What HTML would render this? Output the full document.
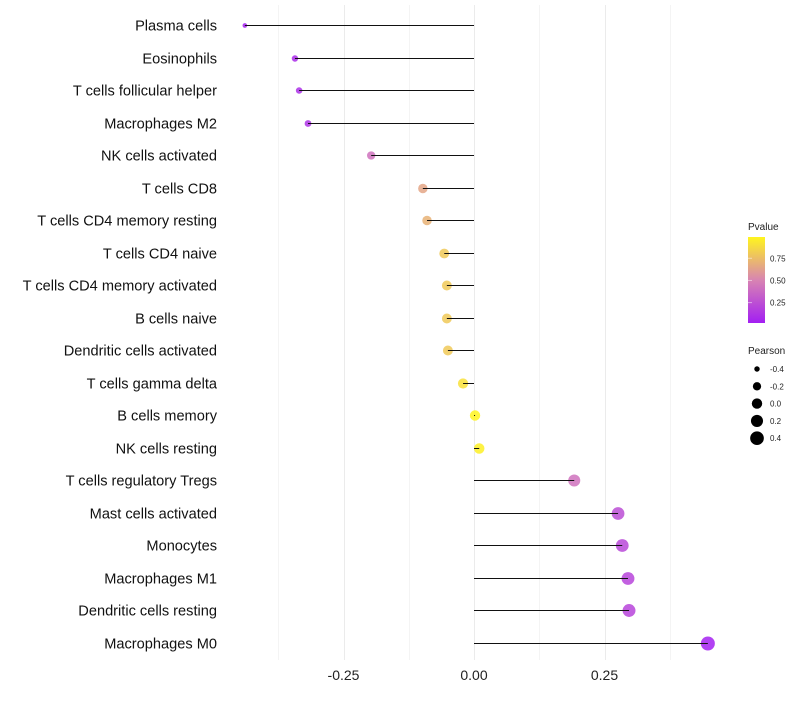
<!DOCTYPE html>
<html><head><meta charset="utf-8"><style>
body{margin:0;background:#fff;font-family:"Liberation Sans",sans-serif}
</style></head><body>
<svg id="c" width="800" height="700" xmlns="http://www.w3.org/2000/svg">
<defs><linearGradient id="g" x1="0" y1="1" x2="0" y2="0">
<stop offset="0" stop-color="#a31ff2"/><stop offset="0.5" stop-color="#d884b2"/><stop offset="1" stop-color="#fff51e"/>
</linearGradient></defs>
<g id="grid"></g><g id="dots"></g><g id="marks"></g><g id="labels"></g>
<g>
<text x="748" y="230" font-size="10" fill="#222">Pvalue</text>
<rect x="748" y="237" width="17" height="86" fill="url(#g)"/>
<g id="cbt" font-size="8" fill="#222"></g>
</g>
<g>
<text x="748" y="354" font-size="10" fill="#222">Pearson</text>
<g id="szl" font-size="8" fill="#222"></g>
</g>
</svg>
<script>
const categories=["Plasma cells","Eosinophils","T cells follicular helper","Macrophages M2","NK cells activated","T cells CD8","T cells CD4 memory resting","T cells CD4 naive","T cells CD4 memory activated","B cells naive","Dendritic cells activated","T cells gamma delta","B cells memory","NK cells resting","T cells regulatory  Tregs ","Mast cells activated","Monocytes","Macrophages M1","Dendritic cells resting","Macrophages M0"];
const pearson=[-0.439,-0.343,-0.335,-0.318,-0.197,-0.098,-0.09,-0.057,-0.052,-0.052,-0.05,-0.021,0.002,0.01,0.192,0.276,0.284,0.295,0.297,0.448];
const pvalue=[0.03,0.08,0.1,0.12,0.42,0.65,0.7,0.8,0.8,0.8,0.8,0.9,0.99,0.97,0.42,0.24,0.22,0.2,0.2,0.03];
const xTicks=[-0.25,0,0.25];
const xTickLabels=["-0.25","0.00","0.25"];
const pTicks=[0.25,0.5,0.75];
const sizeTicks=[-0.4,-0.2,0,0.2,0.4];
const NS="http://www.w3.org/2000/svg";
const X=v=>474+v*522, Y=i=>Math.round(25+i*32.5)+0.5;
const R=v=>{const t=(v+0.45)/0.9;return Math.sqrt(5+t*44);};
const P=p=>323-(p-0.02)/0.97*86;
function col(p){const s=[[163,31,242],[216,132,178],[255,245,30]];const t=Math.max(0,Math.min(1,(p-0.02)/0.97))*2;const i=Math.min(1,Math.floor(t)),f=t-i;const a=s[i],b=s[i+1];return `rgb(${a.map((c,k)=>Math.round(c+(b[k]-c)*f)).join(',')})`;}
function mk(tag,at,par){const e=document.createElementNS(NS,tag);for(const k in at)e.setAttribute(k,at[k]);document.getElementById(par).appendChild(e);return e;}
for(let v=-0.375;v<=0.4;v+=0.125){const e=mk('line',{x1:Math.round(X(v))+0.5,x2:Math.round(X(v))+0.5,y1:5,y2:660,stroke:Math.abs((v*4)%1)<1e-9?'#ebebeb':'#f4f4f4','stroke-width':1},'grid');

}
xTicks.forEach((v,i)=>{const t=mk('text',{x:X(v),y:680,'font-size':14,'text-anchor':'middle',fill:'#222'},'labels');t.textContent=xTickLabels[i];

});
categories.forEach((c,i)=>{
const t=mk('text',{x:217,y:Y(i)+5,'font-size':14.6,'text-anchor':'end',fill:'#111','xml:space':'preserve'},'labels');t.textContent=c;


const d=mk('circle',{cx:X(pearson[i]),cy:Y(i),r:R(pearson[i]),fill:col(pvalue[i]),'fill-opacity':0.85},'dots');


const l=mk('line',{x1:X(0),x2:X(pearson[i]),y1:Y(i),y2:Y(i),stroke:'#111','stroke-width':1},'marks');


});
pTicks.forEach(p=>{const t=mk('text',{x:770,y:P(p)+3},'cbt');t.textContent=p.toFixed(2);


const l=mk('line',{x1:748,x2:752,y1:P(p),y2:P(p),stroke:'#fff','stroke-opacity':0.5},'cbt');

});
sizeTicks.forEach((v,i)=>{const y=369+i*17.3;const c=mk('circle',{cx:757,cy:y,r:R(v),fill:'#000'},'szl');


const t=mk('text',{x:770,y:y+3},'szl');t.textContent=v.toFixed(1);

});
</script>
</body></html>
